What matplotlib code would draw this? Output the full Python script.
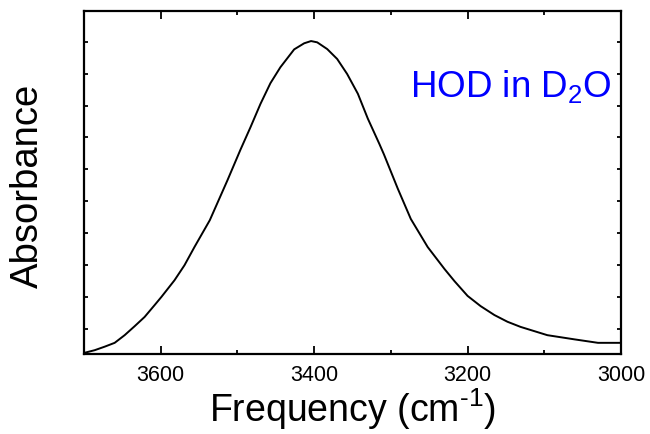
import numpy as np
import matplotlib
matplotlib.use('Agg')
import matplotlib.pyplot as plt
from matplotlib.ticker import MultipleLocator, NullFormatter

plt.rcParams['font.family'] = ['Liberation Sans', 'DejaVu Sans']
plt.rcParams['mathtext.fontset'] = 'custom'
plt.rcParams['mathtext.rm'] = 'Liberation Sans'

# frequency (cm-1) and absorbance (arb. units)
freq = [3699, 3686, 3673, 3660, 3647, 3634, 3621, 3608, 3599, 3582,
        3569, 3556, 3536, 3513, 3496, 3483, 3470, 3457, 3444, 3426,
        3413, 3404, 3396, 3383, 3370, 3357, 3343, 3330, 3315, 3309,
        3291, 3274, 3252, 3230, 3217, 3200, 3183, 3165, 3148, 3131,
        3096, 3061, 3030, 3000]
absorb = [-0.074, -0.066, -0.055, -0.043, -0.019, 0.009, 0.038, 0.075, 0.101, 0.153,
          0.200, 0.257, 0.341, 0.466, 0.562, 0.632, 0.705, 0.770, 0.820, 0.876,
          0.895, 0.902, 0.898, 0.877, 0.846, 0.799, 0.737, 0.659, 0.580, 0.547,
          0.440, 0.345, 0.257, 0.188, 0.150, 0.104, 0.072, 0.044, 0.023, 0.007,
          -0.019, -0.032, -0.043, -0.043]

x_ticks = [3600, 3400, 3200, 3000]
y_ticks = [0.0, 0.1, 0.2, 0.3, 0.4, 0.5, 0.6, 0.7, 0.8, 0.9]

fig = plt.figure(figsize=(6.5, 4.34), dpi=100)
ax = fig.add_axes([0.1292, 0.1843, 0.8262, 0.7910])

ax.plot(freq, absorb, color='black', lw=1.4)

ax.set_xlim(3700, 3000)
ax.set_ylim(-0.078, 0.997)
ax.set_xticks(x_ticks)
ax.xaxis.set_minor_locator(MultipleLocator(100))
ax.set_yticks(y_ticks)
ax.yaxis.set_major_formatter(NullFormatter())

ax.tick_params(axis='x', which='major', direction='in', length=6, width=1.3,
               top=True, labelsize=15.5, pad=8)
ax.tick_params(axis='x', which='minor', direction='in', length=3, width=1.3, top=True)
ax.tick_params(axis='y', which='major', direction='in', length=3, width=1.3, right=True)
for sp in ax.spines.values():
    sp.set_linewidth(1.6)

ax.set_xlabel(r'Frequency (cm$^{\mathregular{\text{-}1}}$)', fontsize=27, labelpad=0)
ax.set_ylabel('Absorbance', fontsize=27.5, labelpad=0)
ax.yaxis.set_label_coords(-0.07, 0.49)

ax.text(0.607, 0.746, r'HOD in D$_{\mathregular{2}}$O', transform=ax.transAxes,
        color='#0000ff', fontsize=26.5, ha='left', va='baseline')

fig.savefig('out.png', dpi=100)
